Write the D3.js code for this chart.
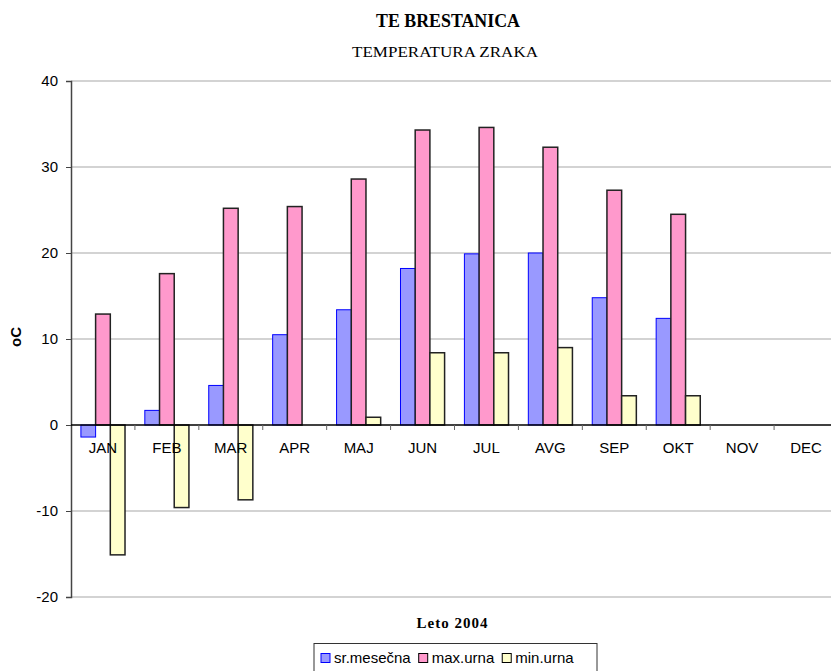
<!DOCTYPE html>
<html lang="en">
<head>
  <meta charset="UTF-8">
  <title>TE Brestanica - temperatura zraka</title>
  <script src="https://d3js.org/d3.v7.min.js"></script>
  <style>
    body {
      margin: 0;
      background: #fff;
    }
    svg text {
      font-family: "Liberation Sans", Arial, sans-serif;
      fill: #000;
    }
    .serif {
      font-family: "Liberation Serif", "Times New Roman", serif !important;
    }
  </style>
</head>
<body>
  <svg id="chart" width="831" height="671"></svg>

  <script>
    const months = ["JAN", "FEB", "MAR", "APR", "MAJ", "JUN", "JUL", "AVG", "SEP", "OKT", "NOV", "DEC"];
    const seriesNames = ["sr.mesečna", "max.urna", "min.urna"];
    const srMesecna = [-1.4, 1.7, 4.6, 10.5, 13.4, 18.2, 19.9, 20.0, 14.8, 12.4, null, null];
    const maxUrna = [12.9, 17.6, 25.2, 25.4, 28.6, 34.3, 34.6, 32.3, 27.3, 24.5, null, null];
    const minUrna = [-15.1, -9.6, -8.7, 0, 0.9, 8.4, 8.4, 9.0, 3.4, 3.4, null, null];
    const yTicks = [-20, -10, 0, 10, 20, 30, 40];

    const colors = {
      "sr.mesečna": { fill: "#9999ff", stroke: "#0000ff" },
      "max.urna": { fill: "#ff99cc", stroke: "#222" },
      "min.urna": { fill: "#ffffcc", stroke: "#222" }
    };

    const svg = d3.select("#chart");
    const plotLeft = 71, plotRight = 838, plotTop = 81, plotBottom = 597;

    const x0 = d3.scaleBand().domain(months).range([plotLeft, plotRight])
      .paddingInner(0.31).paddingOuter(0.155);
    const x1 = d3.scaleBand().domain(seriesNames).range([0, x0.bandwidth()]);
    const y = d3.scaleLinear().domain([-20, 40]).range([plotBottom, plotTop]);

    // gridlines
    svg.append("g")
      .selectAll("line")
      .data(yTicks.filter(d => d !== 0))
      .enter()
      .append("line")
      .attr("x1", plotLeft).attr("x2", plotRight)
      .attr("y1", d => y(d)).attr("y2", d => y(d))
      .attr("stroke", "#c4c4c4")
      .attr("stroke-width", 1.5);

    // y axis (plain hyphen for negatives, like the original)
    const yAxis = svg.append("g")
      .attr("transform", `translate(${plotLeft},0)`)
      .call(d3.axisLeft(y).tickValues(yTicks).tickSize(5).tickPadding(8)
        .tickFormat(d => String(d)));
    yAxis.select(".domain").attr("stroke", "#444").attr("stroke-width", 1.5);
    yAxis.selectAll(".tick line").attr("stroke", "#444");
    yAxis.selectAll(".tick text")
      .style("font-size", "15px")
      .attr("fill", "#000");

    // bars
    const data = months.map((m, i) => ({
      month: m,
      values: [
        { key: seriesNames[0], v: srMesecna[i] },
        { key: seriesNames[1], v: maxUrna[i] },
        { key: seriesNames[2], v: minUrna[i] }
      ]
    }));

    svg.append("g")
      .selectAll("g")
      .data(data)
      .enter()
      .append("g")
      .attr("transform", d => `translate(${x0(d.month)},0)`)
      .selectAll("rect")
      .data(d => d.values.filter(e => e.v !== null && e.v !== 0))
      .enter()
      .append("rect")
      .attr("x", d => x1(d.key))
      .attr("width", x1.bandwidth())
      .attr("y", d => y(Math.max(0, d.v)))
      .attr("height", d => Math.abs(y(d.v) - y(0)))
      .attr("fill", d => colors[d.key].fill)
      .attr("stroke", d => colors[d.key].stroke)
      .attr("stroke-width", d => d.key === "sr.mesečna" ? 1 : 1.5);

    // zero line with category ticks
    const xAxis = svg.append("g")
      .attr("transform", `translate(0,${y(0)})`);
    xAxis.append("line")
      .attr("x1", plotLeft).attr("x2", plotRight)
      .attr("stroke", "#000").attr("stroke-width", 1.5);
    xAxis.selectAll(".cat-tick")
      .data(months.slice(1))
      .enter()
      .append("line")
      .attr("x1", d => x0(d) - x0.step() * x0.paddingInner() / 2)
      .attr("x2", d => x0(d) - x0.step() * x0.paddingInner() / 2)
      .attr("y1", 0).attr("y2", 5)
      .attr("stroke", "#666");
    xAxis.selectAll("text")
      .data(months)
      .enter()
      .append("text")
      .attr("x", d => x0(d) + x0.bandwidth() / 2)
      .attr("y", 28)
      .attr("text-anchor", "middle")
      .style("font-size", "15px")
      .text(d => d);

    // titles
    svg.append("text")
      .attr("class", "serif")
      .attr("x", 448).attr("y", 27)
      .attr("text-anchor", "middle")
      .attr("textLength", 144)
      .attr("lengthAdjust", "spacingAndGlyphs")
      .style("font-size", "18px")
      .style("font-weight", "bold")
      .text("TE BRESTANICA");

    svg.append("text")
      .attr("class", "serif")
      .attr("x", 445).attr("y", 57)
      .attr("text-anchor", "middle")
      .attr("textLength", 186)
      .attr("lengthAdjust", "spacingAndGlyphs")
      .style("font-size", "15.5px")
      .text("TEMPERATURA  ZRAKA");

    svg.append("text")
      .attr("class", "serif")
      .attr("x", 452).attr("y", 628)
      .attr("text-anchor", "middle")
      .attr("textLength", 71)
      .attr("lengthAdjust", "spacing")
      .style("font-size", "15px")
      .style("font-weight", "bold")
      .text("Leto 2004");

    svg.append("text")
      .attr("transform", "translate(21,337) rotate(-90)")
      .attr("text-anchor", "middle")
      .style("font-size", "15px")
      .style("font-weight", "bold")
      .text("oC");

    // legend
    const legend = svg.append("g");
    legend.append("rect")
      .attr("x", 314).attr("y", 643.5)
      .attr("width", 283).attr("height", 40)
      .attr("fill", "#fff")
      .attr("stroke", "#333");

    let lx = 321;
    seriesNames.forEach(name => {
      legend.append("rect")
        .attr("x", lx).attr("y", 653.5)
        .attr("width", 9).attr("height", 9)
        .attr("fill", colors[name].fill)
        .attr("stroke", name === "sr.mesečna" ? "#0000ff" : "#000");
      const t = legend.append("text")
        .attr("x", lx + 13).attr("y", 663)
        .style("font-size", "15px")
        .text(name);
      lx += 13 + t.node().getComputedTextLength() + 8;
    });
  </script>
</body>
</html>
